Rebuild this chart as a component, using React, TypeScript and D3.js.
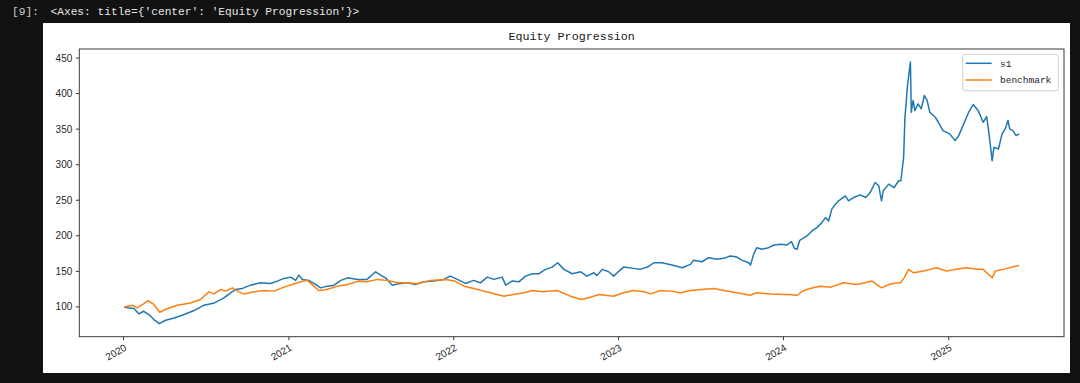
import React from 'react';
import * as d3 from 'd3';

const s1Dates = [
  '2020-01-02','2020-01-13','2020-01-24','2020-02-04','2020-02-14','2020-02-26','2020-03-08','2020-03-20','2020-04-03','2020-04-22',
  '2020-05-14','2020-06-05','2020-06-27','2020-07-20','2020-08-10','2020-08-25','2020-09-05','2020-09-20','2020-10-08','2020-10-30',
  '2020-11-21','2020-12-06','2020-12-21','2021-01-05','2021-01-16','2021-01-23','2021-01-31','2021-02-14','2021-03-01','2021-03-12',
  '2021-03-27','2021-04-11','2021-04-26','2021-05-11','2021-06-02','2021-06-23','2021-07-12','2021-07-23','2021-08-03','2021-08-18',
  '2021-09-01','2021-09-20','2021-10-08','2021-10-27','2021-11-18','2021-12-10','2021-12-24','2022-01-09','2022-01-27','2022-02-14',
  '2022-03-01','2022-03-16','2022-03-31','2022-04-18','2022-04-26','2022-05-10','2022-05-25','2022-06-09','2022-06-24','2022-07-08',
  '2022-07-23','2022-08-07','2022-08-19','2022-09-02','2022-09-20','2022-10-09','2022-10-23','2022-11-07','2022-11-14','2022-11-26',
  '2022-12-10','2022-12-21','2023-01-02','2023-01-12','2023-02-03','2023-02-17','2023-03-06','2023-03-20','2023-04-07','2023-04-29',
  '2023-05-22','2023-06-09','2023-06-16','2023-07-05','2023-07-19','2023-08-07','2023-08-22','2023-09-05','2023-09-20','2023-10-02',
  '2023-10-16','2023-10-20','2023-10-27','2023-11-03','2023-11-14','2023-11-29','2023-12-11','2023-12-26','2024-01-09','2024-01-19',
  '2024-01-25','2024-01-31','2024-02-06','2024-02-22','2024-03-04','2024-03-15','2024-03-26','2024-04-03','2024-04-10','2024-04-17',
  '2024-04-25','2024-05-02','2024-05-17','2024-05-24','2024-06-04','2024-06-19','2024-07-01','2024-07-11','2024-07-22','2024-07-30',
  '2024-08-05','2024-08-09','2024-08-21','2024-09-02','2024-09-12','2024-09-17','2024-09-23','2024-09-26','2024-10-02','2024-10-08',
  '2024-10-10','2024-10-14','2024-10-18','2024-10-25','2024-11-01','2024-11-08','2024-11-14','2024-11-20','2024-12-02','2024-12-09',
  '2024-12-19','2025-01-03','2025-01-15','2025-01-23','2025-02-03','2025-02-14','2025-02-24','2025-03-07','2025-03-18','2025-03-26',
  '2025-04-01','2025-04-07','2025-04-11','2025-04-21','2025-04-29','2025-05-06','2025-05-12','2025-05-16','2025-05-23','2025-05-30',
  '2025-06-06',
];
const s1Values = [
  100, 98.6, 97.7, 90.1, 93.9, 89.3, 82.2, 76.5, 81.2, 84.5,
  89.3, 94.9, 102.4, 105.6, 112.7, 119.8, 124.6, 126, 130.6, 133.9,
  133, 136.3, 140.1, 141.9, 137.3, 144.7, 138.7, 137.3, 131.6, 126.8,
  129.2, 130.6, 137.3, 140.9, 138.7, 138.7, 149.4, 144.7, 140.9, 130.6,
  132.5, 133.9, 131.6, 135.3, 136.3, 138.7, 143.3, 138.7, 133, 137.3,
  133.9, 141.9, 138.7, 141.9, 130.6, 136.3, 135.3, 143.3, 146.6, 146.6,
  152.8, 156, 162.1, 152.8, 146.6, 149.4, 143.3, 148, 144, 152.8,
  149.4, 143.3, 150.4, 156, 154.2, 152.8, 156, 162.1, 162.1, 158.8,
  155, 159.8, 165.5, 163.5, 169.2, 166.9, 168.3, 171.5, 170.1, 165.5,
  162.1, 158.8, 174, 183.3, 181, 183.3, 187.1, 188.1, 187.1, 191.7,
  182.4, 181, 193.7, 199.8, 206.8, 211.5, 218.5, 225.6, 220.9, 237.5,
  244.5, 249.2, 256.2, 249.2, 253.8, 257.6, 253.8, 260.9, 275, 270.3,
  249.2, 263.3, 272.7, 267.9, 277.4, 277.4, 310.3, 366.7, 413.8, 444.3,
  373.8, 390.3, 376.2, 385.6, 378.6, 397.3, 390.3, 373.8, 366.7, 359.7,
  348, 343.3, 333.8, 340.9, 357.4, 373.8, 384.6, 376.2, 359.7, 367.7,
  338.5, 305.6, 324.4, 322.1, 343.3, 350.3, 362.1, 350.3, 348, 340.9,
  343.3,
];

const benchDates = [
  '2020-01-02','2020-01-20','2020-01-31','2020-02-14','2020-02-24','2020-03-08','2020-03-21','2020-04-07','2020-04-29','2020-05-28',
  '2020-06-19','2020-07-08','2020-07-19','2020-08-03','2020-08-14','2020-08-29','2020-09-09','2020-09-23','2020-10-16','2020-11-07',
  '2020-11-29','2020-12-21','2021-01-08','2021-01-27','2021-02-11','2021-02-25','2021-03-08','2021-03-26','2021-04-19','2021-05-11',
  '2021-06-04','2021-06-23','2021-07-16','2021-08-07','2021-08-30','2021-09-20','2021-10-12','2021-11-11','2021-12-14','2022-01-03',
  '2022-01-24','2022-02-14','2022-03-08','2022-03-23','2022-04-22','2022-05-13','2022-06-06','2022-06-24','2022-07-15','2022-08-18',
  '2022-09-16','2022-10-10','2022-10-31','2022-11-18','2022-12-21','2023-01-12','2023-02-03','2023-02-27','2023-03-13','2023-04-04',
  '2023-04-26','2023-05-18','2023-06-09','2023-07-03','2023-07-31','2023-08-22','2023-09-20','2023-10-19','2023-11-03','2023-12-04',
  '2024-01-02','2024-01-16','2024-01-31','2024-02-12','2024-02-29','2024-03-22','2024-04-15','2024-05-02','2024-05-13','2024-06-12',
  '2024-07-15','2024-08-05','2024-08-26','2024-09-16','2024-09-24','2024-10-04','2024-10-15','2024-11-06','2024-11-20','2024-12-05',
  '2024-12-27','2025-01-17','2025-02-10','2025-03-04','2025-03-18','2025-04-07','2025-04-14','2025-05-02','2025-05-21','2025-06-06',
];
const benchValues = [
  100, 102.4, 98.6, 104.2, 109, 103.4, 92.5, 97.7, 102.4, 105.6,
  110.4, 121.2, 118.3, 124.6, 122.2, 126.8, 122.2, 118.3, 121.2, 123.1,
  122.2, 127.8, 131.6, 135.3, 137.3, 129.2, 123.1, 124.6, 129.2, 131.6,
  136.3, 135.3, 138.7, 137.3, 133.9, 133.9, 132.5, 137.3, 138.7, 136.3,
  129.2, 126, 122.2, 119.8, 115.1, 117.5, 119.8, 123.1, 121.2, 123.1,
  115.1, 110.4, 113.7, 117.5, 115.1, 119.8, 123.1, 121.2, 118.3, 123.1,
  122.2, 119.8, 123.1, 124.6, 126, 123.1, 119.8, 116.5, 119.8, 118.3,
  117.5, 117.5, 116.1, 122.2, 126, 129.2, 127.8, 131.6, 133.9, 131.6,
  136.3, 126.8, 132.5, 133.9, 140.9, 152.8, 148, 150.4, 152.8, 155,
  150.4, 152.8, 155, 152.8, 152.8, 140.9, 150.4, 152.8, 156, 158.4,
];

const yTickValues = [100, 150, 200, 250, 300, 350, 400, 450];
const xTickYears = ['2020', '2021', '2022', '2023', '2024', '2025'];
const seriesNames = ['s1', 'benchmark'];
const seriesColors = ['#1f77b4', '#ff7f0e'];
const chartTitle = 'Equity Progression';
const cellPrompt = '[9]:';
const cellOutput = "<Axes: title={'center': 'Equity Progression'}>";

export default function App() {
  const W = 1080, H = 383;
  const left = 79.3, right = 1064, top = 49, bottom = 336.7;
  const parse = d3.timeParse('%Y-%m-%d');
  const s1 = s1Dates.map((d, i) => ({ date: parse(d) as Date, value: s1Values[i] }));
  const bench = benchDates.map((d, i) => ({ date: parse(d) as Date, value: benchValues[i] }));
  const all = [...s1, ...bench];
  const [dMin, dMax] = d3.extent(all, (p) => +p.date) as [number, number];
  const dSpan = dMax - dMin;
  const x = d3.scaleTime()
    .domain([new Date(dMin - 0.05 * dSpan), new Date(dMax + 0.05 * dSpan)])
    .range([left, right]);
  const [vMin, vMax] = d3.extent(all, (p) => p.value) as [number, number];
  const vSpan = vMax - vMin;
  const y = d3.scaleLinear()
    .domain([vMin - 0.05 * vSpan, vMax + 0.05 * vSpan])
    .range([bottom, top]);
  const line = d3.line<{ date: Date; value: number }>()
    .x((p) => x(p.date))
    .y((p) => y(p.value));
  const series = [s1, bench];
  const tickFont = '"Liberation Sans", Arial, sans-serif';
  const monoFont = '"Liberation Mono", "DejaVu Sans Mono", monospace';

  return (
    <svg width={W} height={H} style={{ position: 'absolute', left: 0, top: 0, display: 'block' }}>
      <rect x={0} y={0} width={W} height={H} fill="#121212" />
      <text x={12} y={15} fill="#cfcfcf" fontFamily={monoFont} fontSize={11.2}>{cellPrompt}</text>
      <text x={50.5} y={15} fill="#e6e6e6" fontFamily={monoFont} fontSize={11.2}>{cellOutput}</text>
      <rect x={43} y={23} width={1027} height={350} fill="#ffffff" />
      <text x={(left + right) / 2} y={40} textAnchor="middle" fontFamily={monoFont} fontSize={11.7} fill="#1a1a1a">{chartTitle}</text>

      <defs>
        <clipPath id="plotclip">
          <rect x={left} y={top} width={right - left} height={bottom - top} />
        </clipPath>
      </defs>
      <g clipPath="url(#plotclip)">
        {series.map((s, i) => (
          <path key={i} d={line(s) || ''} fill="none" stroke={seriesColors[i]} strokeWidth={1.5} strokeLinejoin="round" />
        ))}
      </g>

      <rect x={left} y={top} width={right - left} height={bottom - top} fill="none" stroke="#3a3a3a" strokeWidth={1} />

      {yTickValues.map((v) => (
        <g key={v}>
          <line x1={left - 3.5} x2={left} y1={y(v)} y2={y(v)} stroke="#3a3a3a" strokeWidth={1} />
          <text x={left - 7} y={y(v)} dy="0.35em" textAnchor="end" fontFamily={tickFont} fontSize={10} fill="#262626">{v}</text>
        </g>
      ))}

      {xTickYears.map((yr) => {
        const xp = x(parse(`${yr}-01-01`) as Date);
        return (
          <g key={yr}>
            <line x1={xp} x2={xp} y1={bottom} y2={bottom + 3.5} stroke="#3a3a3a" strokeWidth={1} />
            <text transform={`translate(${xp},${bottom + 6.5}) rotate(-30)`} dy="0.75em" textAnchor="end" fontFamily={tickFont} fontSize={10} fill="#262626">{yr}</text>
          </g>
        );
      })}

      <g>
        <rect x={962.7} y={54.3} width={95.6} height={36.4} rx={2.5} ry={2.5} fill="#ffffff" fillOpacity={0.8} stroke="#d0d0d0" strokeWidth={1} />
        {seriesNames.map((n, i) => {
          const cy = 63.3 + i * 16.7;
          return (
            <g key={n}>
              <line x1={965.7} x2={991.7} y1={cy} y2={cy} stroke={seriesColors[i]} strokeWidth={1.5} />
              <text x={1000} y={cy} dy="0.35em" fontFamily={monoFont} fontSize={9.5} fill="#1a1a1a">{n}</text>
            </g>
          );
        })}
      </g>
    </svg>
  );
}
